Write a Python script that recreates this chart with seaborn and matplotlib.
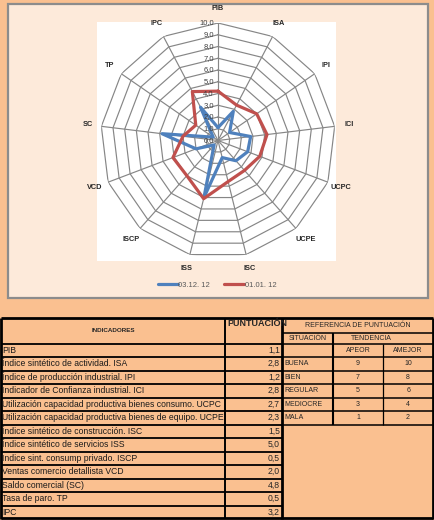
import numpy as np
import pandas as pd
import matplotlib.pyplot as plt
import seaborn as sns
from matplotlib.patches import Rectangle

# Datos del radar
categorias = ['PIB', 'ISA', 'IPI', 'ICI', 'UCPC', 'UCPE', 'ISC', 'ISS', 'ISCP', 'VCD', 'SC', 'TP', 'IPC']
serie_dic12 = [1.1, 2.8, 1.2, 2.8, 2.7, 2.3, 1.5, 5.0, 0.5, 2.0, 4.8, 0.5, 3.2]
serie_ene12 = [4.2, 3.4, 4.0, 4.2, 3.8, 3.4, 3.6, 5.1, 4.0, 4.1, 3.0, 2.3, 4.7]
nombres_series = ['03.12. 12', '01.01. 12']
escala = list(range(0, 11))

# Datos de la tabla
indicadores = [
    'PIB',
    'Índice sintético de actividad. ISA',
    'Índice de producción industrial. IPI',
    'Indicador de Confianza industrial. ICI',
    'Utilización capacidad productiva bienes consumo. UCPC',
    'Utilización capacidad productiva bienes de equipo. UCPE',
    'Índice sintético de construcción. ISC',
    'Índice sintético de servicios ISS',
    'Indice sint. consump privado. ISCP',
    'Ventas comercio detallista VCD',
    'Saldo comercial (SC)',
    'Tasa de paro. TP',
    'IPC',
]
puntuacion = [1.1, 2.8, 1.2, 2.8, 2.7, 2.3, 1.5, 5.0, 0.5, 2.0, 4.8, 0.5, 3.2]
situaciones = ['BUENA', 'BIEN', 'REGULAR', 'MEDIOCRE', 'MALA']
a_peor = [9, 7, 5, 3, 1]
a_mejor = [10, 8, 6, 4, 2]

sns.set_theme(style='white')
plt.rcParams['font.family'] = ['Liberation Sans', 'DejaVu Sans']

W, H = 434, 520
fig = plt.figure(figsize=(W / 100, H / 100), dpi=100)
fig.patch.set_facecolor('#FAC090')


def caja(x, y, w, h):
    return [x / W, 1 - (y + h) / H, w / W, h / H]


# marco del grafico y area blanca
fig.add_artist(Rectangle((8 / W, 1 - 298 / H), 420 / W, 294 / H, transform=fig.transFigure,
                         facecolor='#FDEADA', edgecolor='#8C8C8C', lw=1.6, zorder=-2))
fig.add_artist(Rectangle((97 / W, 1 - 261 / H), 239 / W, 239 / H, transform=fig.transFigure,
                         facecolor='white', edgecolor='none', zorder=-1))

# radar
cx, cy, rad = 218, 140.5, 117.5
ax = fig.add_axes(caja(cx - rad, cy - rad, 2 * rad, 2 * rad), projection='polar')
ax.set_theta_zero_location('N')
ax.set_theta_direction(-1)
ax.patch.set_visible(False)
ax.grid(False)
ax.spines['polar'].set_visible(False)
ax.set_xticks([])
ax.set_yticks([])

angulos = np.linspace(0, 2 * np.pi, len(categorias), endpoint=False)
cerrado = np.append(angulos, 2 * np.pi)

for r in escala[1:]:
    ax.plot(cerrado, [r] * len(cerrado), color='#868686', lw=0.85, zorder=1)
for t in angulos:
    ax.plot([t, t], [0, 10], color='#868686', lw=0.85, zorder=1)

df = pd.concat([
    pd.DataFrame({'theta': cerrado, 'valor': serie_dic12 + serie_dic12[:1], 'serie': nombres_series[0]}),
    pd.DataFrame({'theta': cerrado, 'valor': serie_ene12 + serie_ene12[:1], 'serie': nombres_series[1]}),
])
sns.lineplot(data=df, x='theta', y='valor', hue='serie', palette=['#4F81BD', '#C0504D'],
             sort=False, estimator=None, lw=2.3, ax=ax, zorder=3)
ax.set_ylim(0, 10)
ax.set_xlabel('')
ax.set_ylabel('')

for r in escala:
    ax.annotate(f'{r:.1f}'.replace('.', ','), xy=(0, r), xytext=(-3, 0), textcoords='offset points',
                ha='right', va='center', fontsize=5.5, color='#404040', zorder=4)
for t, c in zip(angulos, categorias):
    ax.text(t, 11.2, c, ha='center', va='center', fontsize=5.3, fontweight='bold', color='#262626')

handles, labels = ax.get_legend_handles_labels()
leg = ax.legend(handles, labels, ncol=2, frameon=False, loc='center',
                bbox_to_anchor=(217 / W, 1 - 285 / H), bbox_transform=fig.transFigure,
                fontsize=5.5, handlelength=2.6, handletextpad=0.1, columnspacing=1.8)
for txt in leg.get_texts():
    txt.set_color('#595959')

# tabla
tab = fig.add_axes([0, 0, 1, 1])
tab.set_xlim(0, W)
tab.set_ylim(H, 0)
tab.axis('off')
tab.patch.set_visible(False)

y0, yh, fila = 318, 343.5, 13.5
x0, x1, x2, x3, x4, x5 = 0.8, 225, 282, 333, 383, 433.2
yfin = yh + fila * len(indicadores)
yref = yh + fila * (len(situaciones) + 1)

kw = dict(color='black')
tab.hlines([y0, yfin - 0.8], x0, x5, lw=2, **kw)
tab.vlines([x0, x1, x2, x5], y0, yfin, lw=[2, 1.4, 2, 2], **kw)
filas_y = [yh + i * fila for i in range(len(indicadores))]
tab.hlines(filas_y, x0, x2, lw=1.3, **kw)
tab.hlines([333] + [yh + i * fila for i in range(len(situaciones) + 2)], x2, x5, lw=1.1, **kw)
tab.vlines(x3, 333, yref, lw=1.5, **kw)
tab.vlines(x4, yh, yref, lw=0.9, **kw)

tab.text((x0 + x1) / 2, 331, 'INDICADORES', ha='center', va='center', fontsize=4.5, fontweight='bold')
tab.text(x1 + 2, 324, 'PUNTUACIÓN', ha='left', va='center', fontsize=6.5, fontweight='bold')
tab.text((x2 + x5) / 2, 325.5, 'REFERENCIA DE PUNTUACIÓN', ha='center', va='center', fontsize=5)
tab.text((x2 + x3) / 2, 338.5, 'SITUACIÓN', ha='center', va='center', fontsize=5)
tab.text(371, 338.5, 'TENDENCIA', ha='center', va='center', fontsize=5)
tab.text((x3 + x4) / 2, yh + fila / 2, 'APEOR', ha='center', va='center', fontsize=5)
tab.text((x4 + x5) / 2, yh + fila / 2, 'AMEJOR', ha='center', va='center', fontsize=5)

for i, (nom, val) in enumerate(zip(indicadores, puntuacion)):
    yc = yh + fila * (i + 0.5)
    tab.text(x0 + 1.5, yc, nom, ha='left', va='center', fontsize=6.2, color='#1a1a1a')
    tab.text(x2 - 2, yc, f'{val:.1f}'.replace('.', ','), ha='right', va='center', fontsize=6.2)

for i, (s, p, m) in enumerate(zip(situaciones, a_peor, a_mejor)):
    yc = yh + fila * (i + 1.5)
    tab.text(x2 + 2, yc, s, ha='left', va='center', fontsize=5)
    tab.text((x3 + x4) / 2, yc, str(p), ha='center', va='center', fontsize=5)
    tab.text((x4 + x5) / 2, yc, str(m), ha='center', va='center', fontsize=5)

fig.savefig('out.png', dpi=100, facecolor=fig.get_facecolor())
